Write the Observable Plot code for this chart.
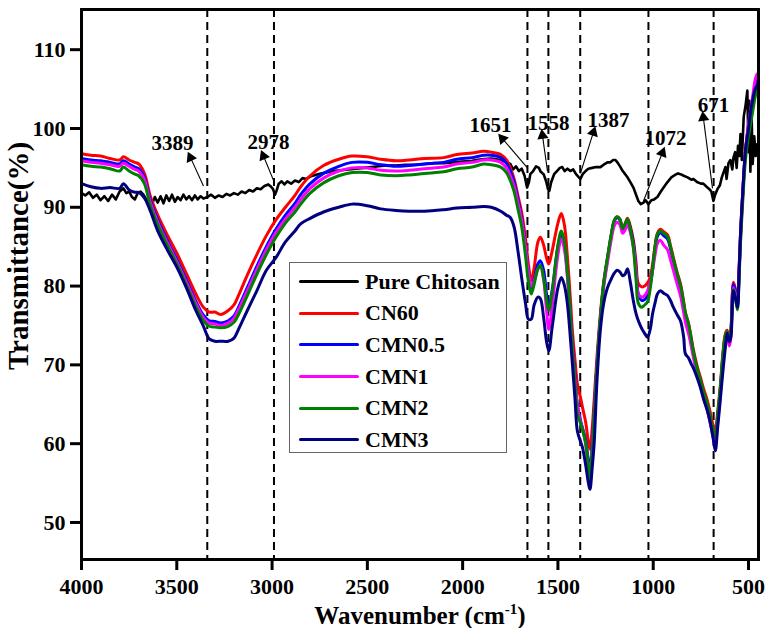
<!DOCTYPE html>
<html>
<head>
<meta charset="utf-8">
<script src="https://cdn.jsdelivr.net/npm/d3@7"></script>
<script src="https://cdn.jsdelivr.net/npm/@observablehq/plot@0.6"></script>
<style>
  body { margin: 0; background: #fff; }
  #wrap { position: relative; width: 768px; height: 628px; overflow: hidden; font-family: "Liberation Serif", Tinos, "Times New Roman", serif; font-weight: bold; color: #000; }
  #wrap svg { position: absolute; left: 0; top: 0; }
  .ytitle { position: absolute; left: 18px; top: 256px; transform: translate(-50%, -50%) rotate(-90deg); font-size: 29px; line-height: 1; white-space: nowrap; }
  .xtitle { position: absolute; left: 420px; top: 615px; transform: translate(-50%, -50%); font-size: 25px; line-height: 1; white-space: nowrap; }
  .xtitle sup { font-size: 15px; position: relative; top: -10px; vertical-align: baseline; line-height: 0; }
  .legend { position: absolute; left: 289px; top: 262px; width: 218px; height: 191px; border: 1px solid #666; background: #fff; box-sizing: border-box; padding-top: 3px; }
  .legend .row { display: flex; align-items: center; height: 31.6px; }
  .legend .sw { width: 60px; height: 3px; margin-left: 9px; margin-right: 6px; border-radius: 2px; }
  .legend .lb { font-size: 22px; line-height: 1; }
</style>
</head>
<body>
<div id="wrap"></div>
<script>
// ---------------- data ----------------
const seriesNames = ["Pure Chitosan", "CN60", "CMN0.5", "CMN1", "CMN2", "CMN3"];
const seriesColors = ["#000000", "#ff0000", "#0000ff", "#ff00ff", "#008000", "#000080"];

const xTicks = [4000, 3500, 3000, 2500, 2000, 1500, 1000, 500];
const yTicks = [50, 60, 70, 80, 90, 100, 110];

// shared wavenumber grid (cm^-1) for the composite spectra
const wavenumber = [
  4000,3950,3900,3850,3800, 3780,3750,3720,3700,3670, 3640,3600,3550,3500,3450,
  3400,3360,3330,3300,3270, 3230,3200,3180,3130,3080, 3030,2980,2930,2880,2850,
  2800,2730,2650,2580,2500, 2430,2350,2280,2200,2100, 2030,1950,1890,1850,1800,
  1770,1750,1730,1710,
  1690,1670,1655,1640,1625, 1605,1592,1575,1560,1548, 1530,1500,1482,1465,1450,
  1435,1424,1410,1398,1382, 1371,1355,1340,1332,1320, 1310,1295,1277,1260,1240,
  1220,1205,1190,1175,1160, 1148,1135,1120,1104,1090, 1078,1060,1045,1030,1015,
  1004,990,978,962,945, 925,910,894,875,857, 840,831,815,800,789,
  770,752,735,716,700, 685,674,662,647,635, 621,612,600,592,579,
  568,558,549,542,530, 516,500,490,475,465, 455
];

const cn60 = [
  96.8,96.6,96.5,96.2,96.0, 96.4,96.0,95.7,95.5,94.3, 91.5,89.0,86.5,84.2,81.6,
  79.0,77.3,76.7,76.7,76.4, 76.9,77.6,78.6,81.4,84.0, 86.4,88.4,90.0,91.5,92.6,
  94.0,95.3,96.1,96.5,96.4, 96.1,95.9,96.0,96.2,96.3, 96.7,96.9,97.1,97.0,96.7,
  96.0,95.0,93.6,91.5,
  89.3,86.0,82.8,80.7,82.3, 85.6,86.2,85.2,83.6,82.8, 84.5,88.0,89.2,87.6,83.6,
  78.5,74.3,70.5,67.6,65.9, 64.6,62.8,60.2,59.3,62.0, 65.5,71.0,76.5,80.5,83.6,
  86.5,88.2,88.8,88.5,87.3, 87.9,88.6,87.6,85.8,83.0, 80.3,79.9,80.0,80.4,81.2,
  82.6,85.2,86.7,87.2,86.9, 86.5,85.2,83.6,81.8,80.3, 78.0,76.6,75.3,73.4,71.9,
  69.9,68.4,66.9,65.5,63.9, 62.3,61.7,64.0,67.6,71.3, 74.0,74.4,73.4,74.6,80.5,
  79.6,78.3,82.5,86.6,92.0, 97.2,100.2,101.5,103.5,105.0, 106.0
];

const cmn05 = [
  96.2,96.0,95.9,95.7,95.5, 95.9,95.5,95.1,94.9,93.8, 91.0,88.4,85.8,83.4,80.8,
  78.1,76.3,75.6,75.5,75.3, 75.6,76.2,77.1,79.8,82.5, 85.0,87.2,89.0,90.5,91.6,
  93.0,94.3,95.2,95.7,95.7, 95.4,95.2,95.3,95.5,95.7, 96.1,96.3,96.6,96.6,96.3,
  95.6,94.6,93.2,91.0,
  88.6,85.0,81.8,79.8,80.8, 82.8,83.2,82.0,79.0,77.3, 79.5,85.0,86.6,85.0,81.5,
  76.5,72.5,68.5,65.0,63.0, 62.0,60.5,57.8,56.5,60.0, 64.0,70.0,76.0,80.2,83.4,
  86.4,88.2,88.7,88.4,87.2, 87.6,88.4,87.3,85.4,82.0, 79.0,78.2,78.3,78.8,80.3,
  82.0,84.8,86.3,86.8,86.4, 86.0,84.8,83.2,81.4,79.9, 77.6,76.2,74.9,73.0,71.5,
  69.4,67.9,66.3,64.9,63.2, 61.4,60.6,63.2,67.0,70.8, 73.6,74.0,73.0,74.2,80.2,
  79.2,77.9,82.1,86.3,91.8, 97.0,100.4,101.8,104.0,105.6, 106.3
];

const cmn1 = [
  95.9,95.7,95.6,95.4,95.2, 95.6,95.2,94.8,94.6,93.5, 90.7,88.1,85.5,83.1,80.5,
  77.8,76.0,75.3,75.2,75.0, 75.3,75.9,76.8,79.4,82.1, 84.6,86.8,88.5,90.0,91.0,
  92.4,93.7,94.6,95.0,95.0, 94.7,94.6,94.7,94.9,95.1, 95.5,95.7,96.0,96.0,95.7,
  95.0,94.0,92.7,90.6,
  88.3,84.8,81.8,80.0,80.6, 82.2,82.5,80.8,77.0,74.5, 77.5,84.0,86.0,84.5,81.0,
  76.0,72.0,68.0,64.8,62.8, 61.8,60.0,57.0,55.8,59.5, 63.5,69.6,75.6,79.8,83.0,
  85.9,87.6,88.1,87.8,86.7, 87.1,87.8,86.8,85.0,81.8, 79.0,78.6,78.8,79.4,80.5,
  81.8,84.0,85.4,85.8,85.2, 84.6,83.4,82.0,80.3,78.8, 76.6,75.4,74.0,72.3,70.9,
  68.8,67.3,65.7,64.2,62.5, 60.8,60.0,62.6,66.5,70.4, 73.2,73.5,72.4,73.6,79.8,
  78.9,77.6,81.8,86.0,91.6, 97.0,100.6,102.2,104.6,106.2, 106.9
];

const cmn2 = [
  95.4,95.2,95.1,94.9,94.6, 95.1,94.6,94.2,94.0,93.0, 90.3,87.8,85.2,82.8,80.2,
  77.4,75.6,74.9,74.8,74.7, 74.9,75.4,76.2,78.8,81.5, 84.0,86.2,88.0,89.4,90.4,
  91.8,93.1,94.0,94.4,94.4, 94.1,94.0,94.1,94.3,94.5, 94.9,95.1,95.5,95.4,95.1,
  94.4,93.4,92.0,89.8,
  87.5,83.8,80.6,79.0,80.2, 82.2,82.6,81.0,78.2,76.9, 79.2,85.2,87.0,85.5,81.8,
  76.4,72.0,67.6,63.8,62.6, 61.8,60.2,57.0,55.3,59.0, 63.3,69.8,76.0,80.3,83.6,
  86.6,88.3,88.8,88.5,87.3, 87.8,88.5,87.2,84.8,80.8, 77.8,77.3,77.6,78.0,79.8,
  82.0,85.0,86.6,87.0,86.7, 86.3,85.0,83.4,81.6,80.1, 77.8,76.6,75.2,73.2,71.6,
  69.6,68.0,66.5,65.0,63.3, 61.6,61.0,63.6,67.3,71.0, 73.8,74.2,73.2,74.3,79.6,
  78.4,77.0,81.2,85.4,90.8, 96.0,99.0,100.4,102.6,104.0, 104.8
];

const cmn3 = [
  93.0,92.6,92.4,92.5,92.4, 93.0,92.2,91.9,91.9,91.2, 89.6,87.0,84.6,82.4,79.8,
  76.9,74.9,73.3,73.0,73.0, 73.0,73.4,74.3,76.9,79.4, 82.0,83.6,85.6,87.0,87.9,
  88.6,89.4,90.0,90.4,90.2, 89.8,89.6,89.5,89.5,89.7, 89.9,90.0,90.1,90.0,89.5,
  89.0,88.7,87.5,84.5,
  81.0,77.8,75.8,75.8,77.6, 78.6,78.4,76.0,73.0,71.8, 74.8,79.8,81.1,80.0,77.7,
  73.5,70.1,65.5,61.6,60.3, 59.5,57.4,55.0,54.2,57.0, 60.0,68.0,74.5,77.8,79.8,
  80.9,81.6,82.0,81.8,81.3, 81.5,82.2,80.5,78.1,76.5, 75.6,74.6,74.0,73.5,74.6,
  76.4,77.9,79.0,79.4,79.1, 78.8,78.2,77.3,76.4,75.6, 73.5,71.4,70.9,70.1,69.6,
  68.4,67.1,65.6,64.2,62.6, 60.6,59.1,62.0,65.8,69.0, 72.3,74.0,72.9,73.6,79.4,
  78.4,77.3,82.0,86.6,92.0, 97.2,100.0,102.0,104.0,105.0, 105.4
];

// pure chitosan (own, denser grid: noisy trace)
const chitosanWn = [
  4000,3980,3960,3940,3920,3900,3880,3860,3840,3820,3800,3780,3765,3750,3735,3720,3705,3690,3675,3660,
  3645,3630,3615,3600,3585,3570,3555,3540,3525,3510,3495,3480,3465,3450,3435,3420,3405,3390,3375,3360,
  3340,3320,3300,3280,3260,3240,3220,3200,3180,3160,3140,3120,3100,3080,3060,3040,3020,3005,2995,2985,
  2978,2965,2950,2935,2920,2900,2880,2860,2840,2820,2800,2760,2720,2680,2640,2600,2560,2520,2480,2440,
  2400,2350,2300,2250,2200,2150,2100,2050,2000,1950,1900,1850,1800,1770,1750,1735,1720,1705,1690,1675,
  1662,1652,1645,1630,1615,1600,1590,1575,1562,1552,1545,1535,1520,1505,1490,1477,1465,1450,1435,1420,
  1405,1390,1382,1370,1355,1340,1320,1300,1277,1260,1240,1225,1210,1198,1185,1172,1160,1150,1135,1120,
  1104,1090,1078,1065,1051,1040,1025,1010,995,978,960,940,925,905,885,870,857,840,820,800,
  789,770,750,737,720,705,695,684,675,663,650,640,630,621,615,605,595,585,579,570,
  562,555,548,542,535,525,515,506,500,495,490,484,478,470,462,455
];
const chitosanT = [
  91.8,91.5,91.9,91.2,91.6,90.9,91.4,90.8,91.6,91.0,92.0,92.4,91.8,92.0,91.3,91.0,91.8,92.0,91.6,91.0,
  90.6,90.4,91.3,90.6,91.4,90.5,91.5,90.8,91.6,90.7,91.3,90.9,91.6,91.0,91.4,90.9,91.5,91.0,91.4,91.1,
  91.3,91.6,91.2,91.5,91.3,91.7,91.5,91.8,91.6,92.0,91.8,92.2,92.0,92.4,92.3,92.7,92.9,92.6,92.3,91.6,
  92.0,93.0,93.3,92.9,93.3,93.0,93.4,93.2,93.7,93.6,93.9,94.2,94.4,94.6,94.7,94.8,94.9,95.0,95.1,95.2,
  95.3,95.3,95.4,95.4,95.5,95.6,95.6,95.7,95.8,95.9,96.1,96.2,96.0,95.7,95.5,94.8,95.2,94.6,94.9,94.0,
  92.5,93.2,94.2,94.6,95.2,95.0,94.5,94.2,93.3,92.3,92.1,93.2,94.2,94.6,95.0,95.1,94.6,94.9,94.6,94.8,
  94.2,93.8,93.6,94.2,94.6,94.9,95.0,95.1,95.1,95.4,95.7,95.7,96.0,96.0,95.6,95.1,94.6,94.3,93.8,93.2,
  92.5,91.6,90.8,90.4,90.6,90.9,90.4,90.9,91.0,91.3,92.0,92.7,93.2,93.8,94.1,94.3,94.2,94.0,93.8,93.5,
  93.6,93.2,93.0,93.0,92.6,92.3,92.0,90.8,91.6,92.3,92.8,93.8,94.5,95.1,93.6,95.6,96.0,94.8,96.3,97.0,
  95.0,97.8,96.5,99.3,96.0,101.5,103.0,104.8,97.0,103.5,94.5,102.0,95.5,99.0,96.5,98.0
];

// marked bands
const peakLineWn = [3340, 2990, 1660, 1550, 1383, 1025, 683];
const peakLabels = ["3389", "2978", "1651", "1558", "1387", "1072", "671"];
const labelWn = [3523, 3019, 1854, 1550, 1235, 936, 684];
const labelT = [98.1, 98.3, 100.4, 100.7, 101.0, 98.7, 102.9];
const arrowFromWn = [3360, 2987, 1660, 1555, 1382, 1051, 689];
const arrowFromT = [92.7, 93.1, 95.0, 94.6, 94.3, 90.8, 92.4];
const arrowToWn = [3428, 3045, 1791, 1581, 1314, 952, 737];
const arrowToT = [96.3, 96.5, 98.7, 99.1, 99.5, 96.9, 101.4];

// ---------------- build ----------------
const FONT = "'Liberation Serif', Tinos, 'Times New Roman', serif";
const W = 768, H = 628;
const mL = 81, mR = 10, mT = 9, mB = 69;
const xDomain = [4000, 447.5];
const yDomain = [45.3, 115.1];

const colored = [cn60, cmn05, cmn1, cmn2, cmn3];
const seriesData = [chitosanWn.map((w, i) => ({wn: w, t: chitosanT[i]}))]
  .concat(colored.map(arr => wavenumber.map((w, i) => ({wn: w, t: arr[i]}))));

const annots = peakLabels.map((l, i) => ({
  label: l, tx: labelWn[i], ty: labelT[i],
  x1: arrowFromWn[i], y1: arrowFromT[i], x2: arrowToWn[i], y2: arrowToT[i]
}));

const sx = Plot.scale({x: {domain: xDomain, range: [mL, W - mR]}});
const sy = Plot.scale({y: {domain: yDomain, range: [H - mB, mT]}});
annots.forEach(a => {
  const dx = sx.apply(a.x2) - sx.apply(a.x1);
  const dy = sy.apply(a.y2) - sy.apply(a.y1);
  a.rot = Math.atan2(dx, -dy) * 180 / Math.PI;
});

const lineMarks = seriesData.map((d, i) => Plot.line(d, {
  x: "wn", y: "t", stroke: seriesColors[i],
  strokeWidth: i === 0 ? 2.6 : 3,
  curve: i === 0 ? "linear" : "catmull-rom",
  strokeLinejoin: "round"
}));

const chart = Plot.plot({
  width: W, height: H,
  marginLeft: mL, marginRight: mR, marginTop: mT, marginBottom: mB,
  style: {fontFamily: FONT, fontWeight: "bold", fontSize: "22px", background: "#fff", color: "#000"},
  x: {domain: xDomain, label: null},
  y: {domain: yDomain, label: null},
  marks: [
    Plot.ruleX(peakLineWn, {stroke: "#000", strokeWidth: 2, strokeDasharray: "8,5"}),
    ...lineMarks,
    Plot.link(annots, {x1: "x1", y1: "y1", x2: "x2", y2: "y2", stroke: "#000", strokeWidth: 1.1}),
    Plot.dot(annots, {x: "x2", y: "y2", symbol: "triangle", r: 4.2, fill: "#000", stroke: "none", rotate: "rot"}),
    Plot.text(annots, {x: "tx", y: "ty", text: "label", fontSize: 21, fontWeight: "bold", fontFamily: FONT, fill: "#000", textAnchor: "middle", lineAnchor: "middle"}),
    Plot.axisX({ticks: xTicks, tickFormat: d => String(d), tickSize: 11, tickPadding: 8, strokeWidth: 3, fontSize: 22, fontFamily: FONT, label: null}),
    Plot.axisY({ticks: yTicks, tickFormat: d => String(d), tickSize: 11, tickPadding: 5, strokeWidth: 3, fontSize: 22, fontFamily: FONT, label: null}),
    Plot.frame({stroke: "#000", strokeWidth: 3})
  ]
});

const wrap = document.getElementById("wrap");
wrap.appendChild(chart);

const yt = document.createElement("div");
yt.className = "ytitle"; yt.textContent = "Transmittance(%)";
wrap.appendChild(yt);

const xt = document.createElement("div");
xt.className = "xtitle"; xt.innerHTML = "Wavenumber (cm<sup>-1</sup>)";
wrap.appendChild(xt);

const lg = document.createElement("div");
lg.className = "legend";
seriesNames.forEach((n, i) => {
  const row = document.createElement("div"); row.className = "row";
  const sw = document.createElement("div"); sw.className = "sw"; sw.style.background = seriesColors[i];
  const lb = document.createElement("div"); lb.className = "lb"; lb.textContent = n;
  row.appendChild(sw); row.appendChild(lb); lg.appendChild(row);
});
wrap.appendChild(lg);
</script>
</body>
</html>
